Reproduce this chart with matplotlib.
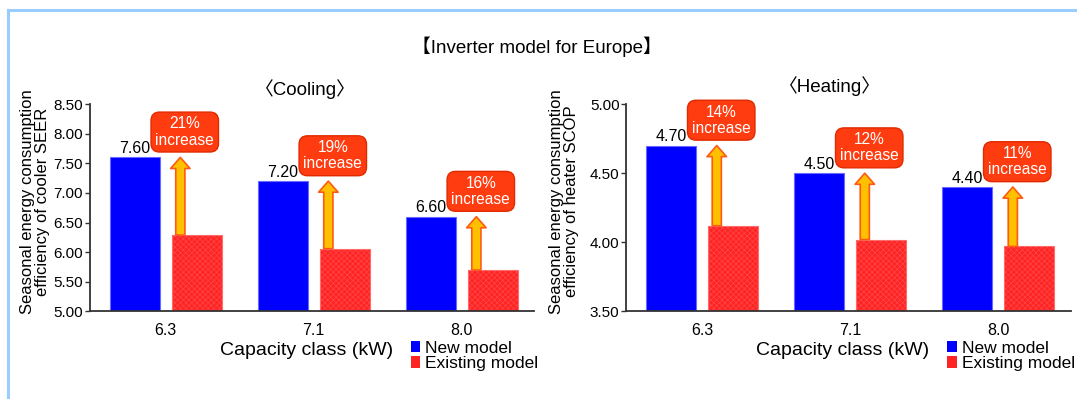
import matplotlib
matplotlib.use("Agg")
import matplotlib.pyplot as plt
from matplotlib.patches import Patch
from matplotlib.lines import Line2D
import numpy as np

plt.rcParams['font.family'] = ['Liberation Sans', 'Noto Sans CJK JP', 'DejaVu Sans']
plt.rcParams['hatch.linewidth'] = 0.5

classes = ["6.3", "7.1", "8.0"]

# seasonal efficiency values
seer_new = [7.60, 7.20, 6.60]
seer_old = [6.29, 6.06, 5.70]
seer_gain = [21, 19, 16]

scop_new = [4.70, 4.50, 4.40]
scop_old = [4.12, 4.02, 3.97]
scop_gain = [14, 12, 11]

BLUE = "#0000ff"
RED = "#ff2424"
BOX = "#ff3c0f"
ARROW_FC = "#ffc000"
ARROW_EC = "#ff5a14"

fig = plt.figure(figsize=(10.77, 3.99), dpi=100)

ax_c = fig.add_axes([0.0836, 0.2193, 0.4123, 0.52])
ax_h = fig.add_axes([0.5817, 0.2193, 0.4123, 0.52])


def draw_panel(ax, new, old, gain, ylim, yticks, title, title_x, title_y, ylabel, ylabel_x):
    x = np.arange(len(classes))
    w = 0.338
    ax.bar(x - 0.208, new, width=w, color=BLUE, edgecolor="#6a6aff", linewidth=0.8, zorder=2)
    # fine texture on the existing model bars
    ax.bar(x + 0.21, old, width=w, color=RED, edgecolor="#ff4646", linewidth=0,
           hatch="xxxxxx", zorder=2)
    ax.bar(x + 0.21, old, width=w, color="none", edgecolor="#ff6a6a", linewidth=0.8, zorder=2)
    ax.set_ylim(*ylim)
    ax.set_xlim(-0.51, 2.49)
    ax.set_yticks(yticks)
    ax.set_yticklabels([f"{t:.2f}" for t in yticks], fontsize=11)
    ax.set_xticks(x)
    ax.set_xticklabels(classes, fontsize=11.5)
    ax.tick_params(axis="x", length=0, pad=8)
    ax.tick_params(axis="y", length=3.5, width=1, pad=1.5, color="#333333")
    for s in ["top", "right"]:
        ax.spines[s].set_visible(False)
    for s in ["left", "bottom"]:
        ax.spines[s].set_color("#333333")
        ax.spines[s].set_linewidth(1.3)

    for i in x:
        # value on the new model bar
        ax.annotate(f"{new[i]:.2f}", xy=(i - 0.208, new[i]), xytext=(0, 1),
                    textcoords="offset points", ha="center", va="bottom", fontsize=11.5)
        # arrow from existing to new level
        ax.annotate("", xy=(i + 0.10, new[i]), xytext=(i + 0.10, old[i]),
                    arrowprops=dict(arrowstyle="simple,head_length=0.8,head_width=1.4,tail_width=0.66",
                                    mutation_scale=10, fc=ARROW_FC, ec=ARROW_EC, lw=1.2,
                                    shrinkA=0, shrinkB=0), zorder=3)
        # callout with the increase
        ax.annotate(f"{gain[i]}%\nincrease", xy=(i + 0.13, new[i]), xytext=(0, 7),
                    textcoords="offset points", ha="center", va="bottom", fontsize=11.2,
                    color="white", linespacing=1.1,
                    bbox=dict(boxstyle="round,pad=0.28,rounding_size=0.55", fc=BOX, ec="#e02a00", lw=1.0),
                    zorder=4)

    ax.text(title_x, title_y, title, transform=ax.transAxes, ha="center", va="center", fontsize=13.5)
    ax.text(ylabel_x, 0.53, ylabel, transform=ax.transAxes, rotation=90, ha="center", va="center",
            fontsize=12, linespacing=1.0, multialignment="center")
    ax.text(0.487, -0.186, "Capacity class (kW)", transform=ax.transAxes, ha="center", va="center",
            fontsize=14)

    handles = [Patch(facecolor=BLUE, edgecolor="none", label="New model"),
               Patch(facecolor=RED, edgecolor="none", label="Existing model")]
    ax.legend(handles=handles, loc="upper left", bbox_to_anchor=(0.722, -0.14), frameon=False,
              fontsize=12.5, handlelength=0.55, handleheight=0.65, handletextpad=0.3,
              labelspacing=0.02, borderpad=0, borderaxespad=0)


draw_panel(ax_c, seer_new, seer_old, seer_gain, (5.0, 8.5), np.arange(5.0, 8.51, 0.5),
           "\u3008Cooling\u3009", 0.484, 1.072,
           "Seasonal energy consumption\nefficiency of cooler SEER", -0.125)
draw_panel(ax_h, scop_new, scop_old, scop_gain, (3.5, 5.0), np.arange(3.5, 5.01, 0.5),
           "\u3008Heating\u3009", 0.458, 1.087,
           "Seasonal energy consumption\nefficiency of heater SCOP", -0.14)

fig.text(0.4986, 0.8835, "\u3010Inverter model for Europe\u3011", ha="center", va="center", fontsize=13.5)

# light blue frame on top and left
fig.add_artist(Line2D([0.0077, 1.0], [0.976, 0.976], transform=fig.transFigure, color="#99ccff", lw=2.2))
fig.add_artist(Line2D([0.0077, 0.0077], [0.0, 0.976], transform=fig.transFigure, color="#99ccff", lw=2.2))

fig.savefig("out.png", dpi=100)
